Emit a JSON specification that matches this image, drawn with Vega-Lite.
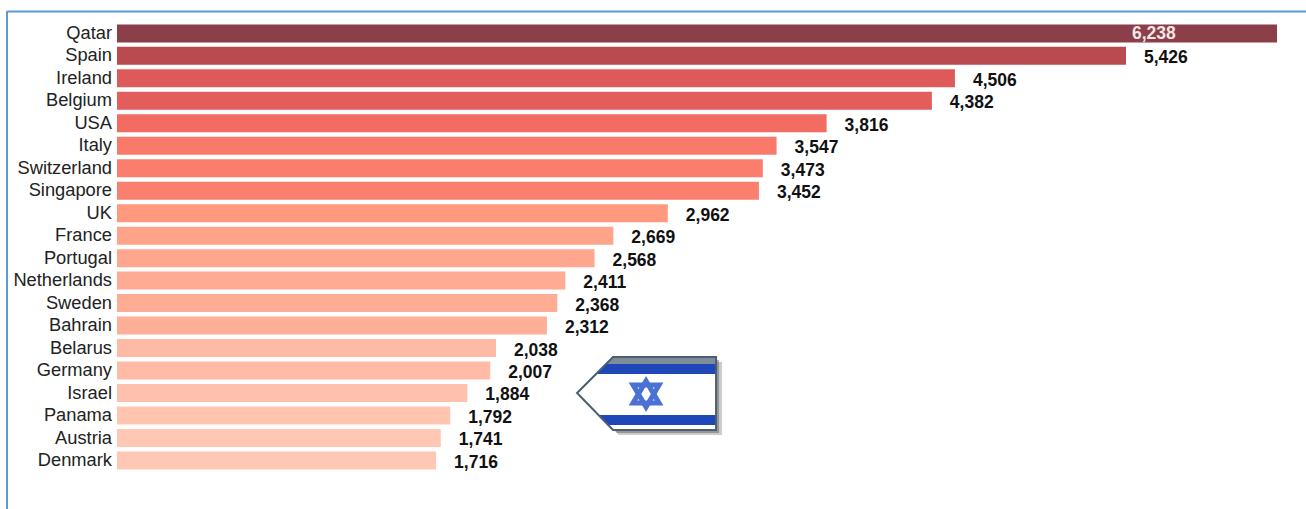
{
"$schema":"https://vega.github.io/schema/vega-lite/v6.json",
"autosize":{"type":"none"},
"padding":{"left":7,"top":11,"right":0,"bottom":0},
"width":1299,"height":498,
"background":"white",
"view":{"stroke":null},
"data":{"values":[
{"Country":"Qatar","Value":6238},{"Country":"Spain","Value":5426},{"Country":"Ireland","Value":4506},{"Country":"Belgium","Value":4382},{"Country":"USA","Value":3816},{"Country":"Italy","Value":3547},{"Country":"Switzerland","Value":3473},{"Country":"Singapore","Value":3452},{"Country":"UK","Value":2962},{"Country":"France","Value":2669},{"Country":"Portugal","Value":2568},{"Country":"Netherlands","Value":2411},{"Country":"Sweden","Value":2368},{"Country":"Bahrain","Value":2312},{"Country":"Belarus","Value":2038},{"Country":"Germany","Value":2007},{"Country":"Israel","Value":1884},{"Country":"Panama","Value":1792},{"Country":"Austria","Value":1741},{"Country":"Denmark","Value":1716}
]},
"encoding":{
"y":{"field":"Country","type":"nominal","sort":null,"title":null,
"scale":{"range":[13.4,458.4],"paddingInner":0.2,"paddingOuter":0},
"axis":{"orient":"left","offset":-110,"domain":false,"ticks":false,"labelPadding":5.5,"labelOffset":0.6,"labelFont":"Liberation Sans","labelFontSize":18.3,"labelColor":"#222222","labelLimit":200}},
"x":{"field":"Value","type":"quantitative","title":null,
"scale":{"domain":[-591.5,6393.9],"nice":false,"zero":false},
"axis":{"orient":"top","domain":true,"domainColor":"#5b9bd5","domainWidth":2,"ticks":false,"labels":false,"grid":false}}
},
"layer":[
{"mark":{"type":"bar","clip":false},
 "encoding":{"color":{"field":"Value","type":"quantitative","legend":null,
  "scale":{"domain":[1716,2312,2962,3473,3816,4506,5426,6238],"range":["#ffc8b5","#ffae97","#ff9a7f","#fb7e6d","#f36c62","#de5a5a","#b94a50","#8a3f49"],"interpolate":"rgb"}}}},
{"transform":[{"filter":"datum.Value < 6000"}],
 "mark":{"type":"text","align":"left","baseline":"middle","dx":18,"dy":2.5,"font":"Liberation Sans","fontWeight":"bold","fontSize":17.5,"color":"#111111"},
 "encoding":{"text":{"field":"Value","type":"quantitative","format":","}}},
{"transform":[{"filter":"datum.Value >= 6000"}],
 "mark":{"type":"text","align":"left","baseline":"middle","dx":-145,"dy":1,"font":"Liberation Sans","fontWeight":"bold","fontSize":17.5,"color":"#f4e6e6"},
 "encoding":{"text":{"field":"Value","type":"quantitative","format":","}}},
{"mark":{"type":"rule","color":"#5b9bd5","strokeWidth":2},
 "encoding":{"x":{"datum":-591.5},"y":{}}},
{"transform":[{"filter":"datum.Country === 'Israel'"}],
 "encoding":{"x":{"datum":2474}},
 "layer":[
  {"mark":{"type":"point","filled":true,"size":4,"opacity":0.3,"color":"#555555","shape":"M6 6 L42 -31 L145 -31 L145 42 L42 42 Z"}},
  {"mark":{"type":"point","filled":true,"size":4,"opacity":0.45,"color":"#555555","shape":"M4 3 L40 -33 L142 -33 L142 40 L40 40 Z"}},
  {"mark":{"type":"point","filled":true,"size":4,"opacity":1,"color":"#ffffff","shape":"M0 0 L36 -36 L139 -36 L139 37 L36 37 Z"}},
  {"mark":{"type":"point","filled":true,"size":4,"opacity":1,"color":"#7f8c9a","shape":"M36 -36 L139 -36 L139 -29 L29 -29 Z"}},
  {"mark":{"type":"point","filled":true,"size":4,"opacity":1,"color":"#1e48b8","shape":"M29 -29 L139 -29 L139 -19 L19 -19 Z"}},
  {"mark":{"type":"point","filled":true,"size":4,"opacity":1,"color":"#1e48b8","shape":"M22 22 L139 22 L139 32 L32 32 Z"}},
  {"mark":{"type":"point","filled":false,"size":4,"opacity":1,"stroke":"#4a72d4","strokeWidth":5,"shape":"M69 -12 L82 10 L56 10 Z"}},
  {"mark":{"type":"point","filled":false,"size":4,"opacity":1,"stroke":"#4a72d4","strokeWidth":5,"shape":"M69 14 L56 -8 L82 -8 Z"}},
  {"mark":{"type":"point","filled":false,"size":4,"opacity":1,"stroke":"#4a5f70","strokeWidth":2,"shape":"M0 0 L36 -36 L139 -36 L139 37 L36 37 Z"}}
 ]}
]
}
